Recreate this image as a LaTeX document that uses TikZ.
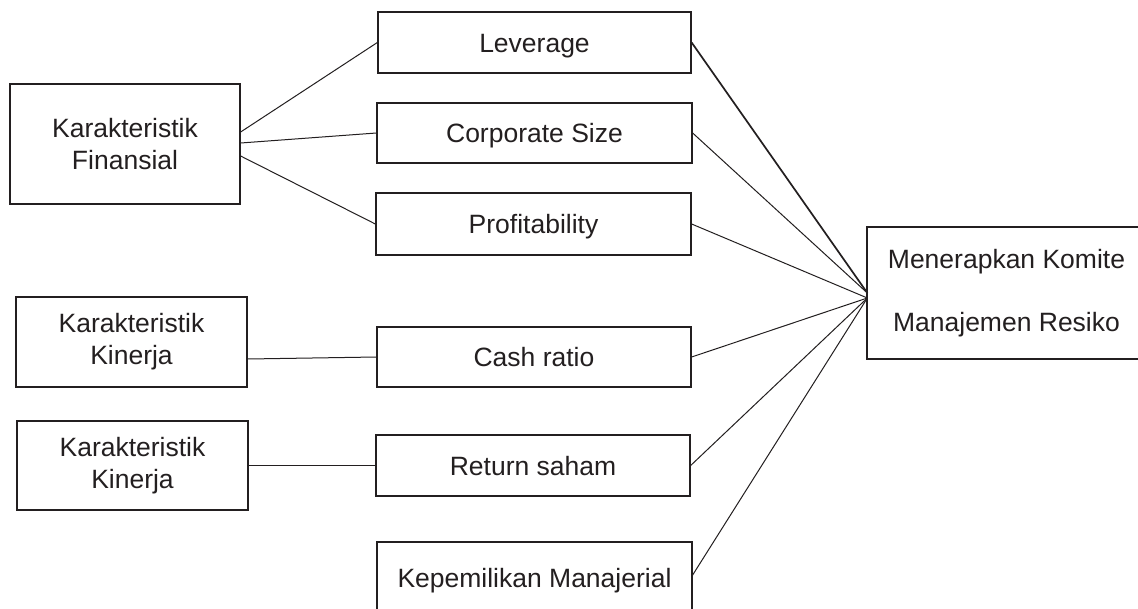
\documentclass[tikz,border=0pt]{standalone}
\usepackage{fontspec}
\setmainfont{Liberation Sans}
\usetikzlibrary{calc}
\definecolor{ink}{HTML}{231F20}
\tikzset{
  box/.style={draw=ink, line width=1.3pt, rectangle, inner sep=0pt, align=center,
    text=ink, font=\fontsize{26.5}{32}\selectfont},
  single/.style={text height=19pt, text depth=0pt},
  link/.style={draw=ink, line width=1pt},
  boldlink/.style={draw=ink, line width=1.7pt}
}
\begin{document}
\begin{tikzpicture}[x=1pt,y=-1pt]
\useasboundingbox (0,0) rectangle (1138,608);
\fill[white] (0,0) rectangle (1138,608);
\node[box, minimum width=230pt, minimum height=120pt] (kf) at (125,144) {Karakteristik\\Finansial};
\node[box, single, minimum width=313pt, minimum height=61pt] (lev) at (534.5,42.5) {Leverage};
\node[box, single, minimum width=315pt, minimum height=60pt] (corp) at (534.5,133) {Corporate Size};
\node[box, single, minimum width=315pt, minimum height=62pt] (prof) at (533.5,224) {Profitability};
\node[box, minimum width=231pt, minimum height=90pt] (kk1) at (131.5,342) {Karakteristik\\Kinerja};
\node[box, single, minimum width=314pt, minimum height=60pt] (cash) at (534,357) {Cash ratio};
\node[box, minimum width=231pt, minimum height=89pt] (kk2) at (132.5,465.5) {Karakteristik\\Kinerja};
\node[box, single, minimum width=314pt, minimum height=61pt] (ret) at (533,465.5) {Return saham};
\node[box, single, minimum width=315pt, minimum height=72pt] (kep) at (534.5,578) {Kepemilikan Manajerial};
\node[box, minimum width=279pt, minimum height=132pt,
  font=\fontsize{26.5}{63}\selectfont] (mr) at (1006.5,293) {Menerapkan Komite\\Manajemen Resiko};
% left connectors
\draw[link] ($(kf.east)+(0,-12)$) -- (lev.west);
\draw[link] ($(kf.east)+(0,-1)$) -- (corp.west);
\draw[link] ($(kf.east)+(0,12)$) -- (prof.west);
\draw[link] ($(kk1.east)+(0,17)$) -- (cash.west);
\draw[link] (kk2.east) -- (ret.west);
% right connectors
\coordinate (hubA) at ($(mr.west)+(1,0)$);
\coordinate (hubB) at ($(mr.west)+(1,5)$);
\draw[boldlink] (lev.east) -- (hubA);
\draw[link] (corp.east) -- (hubA);
\draw[link] (prof.east) -- (hubB);
\draw[link] (cash.east) -- (hubB);
\draw[link] (ret.east) -- (hubB);
\draw[link] ($(kep.east)+(0,-3)$) -- (hubB);
\end{tikzpicture}
\end{document}
